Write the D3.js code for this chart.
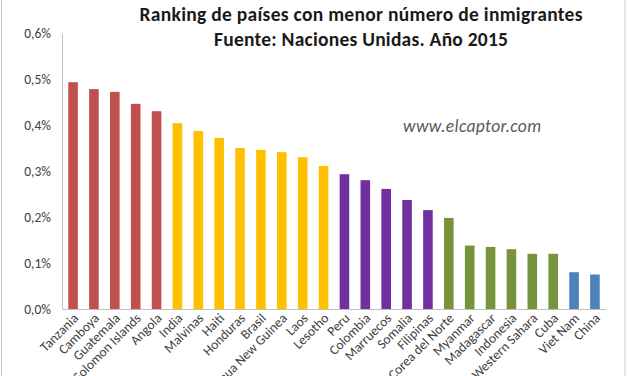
<!DOCTYPE html>
<html>
<head>
<meta charset="utf-8">
<script src="https://cdn.jsdelivr.net/npm/d3@7"></script>
<style>
  body { margin: 0; background: #fff; }
  svg text { font-family: Carlito, Lato, "Open Sans", sans-serif; }
</style>
</head>
<body>
<div id="chart"></div>
<script>
// datos (porcentaje de inmigrantes)
var paises = ["Tanzania", "Camboya", "Guatemala", "Solomon Islands", "Angola",
  "India", "Malvinas", "Haiti", "Honduras", "Brasil", "Papua New Guinea", "Laos", "Lesotho",
  "Peru", "Colombia", "Marruecos", "Somalia", "Filipinas",
  "Corea del Norte", "Myanmar", "Madagascar", "Indonesia", "Western Sahara", "Cuba",
  "Viet Nam", "China"];
var valores = [0.493, 0.478, 0.472, 0.446, 0.430,
  0.404, 0.387, 0.372, 0.350, 0.346, 0.341, 0.330, 0.311,
  0.293, 0.280, 0.261, 0.237, 0.215,
  0.198, 0.138, 0.135, 0.130, 0.120, 0.120,
  0.080, 0.075];
var grupos = [0, 0, 0, 0, 0,
  1, 1, 1, 1, 1, 1, 1, 1,
  2, 2, 2, 2, 2,
  3, 3, 3, 3, 3, 3,
  4, 4];
var colores = ["#C0504D", "#FFC000", "#7030A0", "#77933C", "#4F81BD"];
var yTicks = [0, 0.1, 0.2, 0.3, 0.4, 0.5, 0.6];
var titulo = ["Ranking de países con menor número de inmigrantes",
  "Fuente: Naciones Unidas. Año 2015"];
var tituloAncho = [443, 294];

var W = 627, H = 376;
var margin = { top: 33, right: 21, bottom: 67, left: 62 };
var width = W - margin.left - margin.right,
    height = H - margin.top - margin.bottom;

var svg = d3.select("#chart").append("svg")
    .attr("width", W)
    .attr("height", H);

// marco del grafico
svg.append("rect")
    .attr("x", 1.5).attr("y", -2)
    .attr("width", W - 3.5).attr("height", H + 4)
    .attr("fill", "none")
    .attr("stroke", "#c8c8c8");

var g = svg.append("g")
    .attr("transform", "translate(" + margin.left + "," + margin.top + ")");

var x = d3.scaleBand()
    .domain(paises)
    .range([0, width])
    .paddingInner(0.54)
    .paddingOuter(0.3);

var y = d3.scaleLinear()
    .domain([0, 0.6])
    .range([height, 0]);

// eje y
var yAxis = d3.axisLeft(y)
    .tickValues(yTicks)
    .tickSize(0)
    .tickPadding(11)
    .tickFormat(function(d) { return d3.format(".1f")(d).replace(".", ",") + "%"; });

var gy = g.append("g").attr("class", "y-axis").call(yAxis);
gy.select(".domain").attr("stroke", "#bfbfbf");
gy.selectAll("text")
    .attr("fill", "#404040")
    .style("font-size", "13.5px");

// barras
g.selectAll(".bar").data(valores)
  .enter().append("rect")
    .attr("class", "bar")
    .attr("x", function(d, i) { return x(paises[i]); })
    .attr("y", function(d) { return y(d); })
    .attr("width", x.bandwidth())
    .attr("height", function(d) { return height - y(d); })
    .attr("fill", function(d, i) { return colores[grupos[i]]; });

// eje x
var xAxis = d3.axisBottom(x).tickSize(0).tickPadding(0);
var gx = g.append("g")
    .attr("class", "x-axis")
    .attr("transform", "translate(0," + height + ")")
    .call(xAxis);
gx.select(".domain").attr("stroke", "#bfbfbf");
gx.selectAll("text")
    .attr("fill", "#404040")
    .style("font-size", "13.5px")
    .attr("text-anchor", "end")
    .attr("dy", "0")
    .attr("transform", "translate(6,10) rotate(-45)");

// titulo
svg.selectAll(".titulo").data(titulo)
  .enter().append("text")
    .attr("class", "titulo")
    .attr("x", 361)
    .attr("y", function(d, i) { return 21 + i * 25; })
    .attr("text-anchor", "middle")
    .attr("font-weight", "bold")
    .attr("fill", "#1a1a1a")
    .attr("textLength", function(d, i) { return tituloAncho[i]; })
    .attr("lengthAdjust", "spacing")
    .style("font-size", "19.5px")
    .text(function(d) { return d; });

svg.append("text")
    .attr("x", 472)
    .attr("y", 132)
    .attr("text-anchor", "middle")
    .attr("font-style", "italic")
    .attr("fill", "#595959")
    .attr("textLength", 138)
    .attr("lengthAdjust", "spacing")
    .style("font-size", "17.5px")
    .text("www.elcaptor.com");
</script>
</body>
</html>
